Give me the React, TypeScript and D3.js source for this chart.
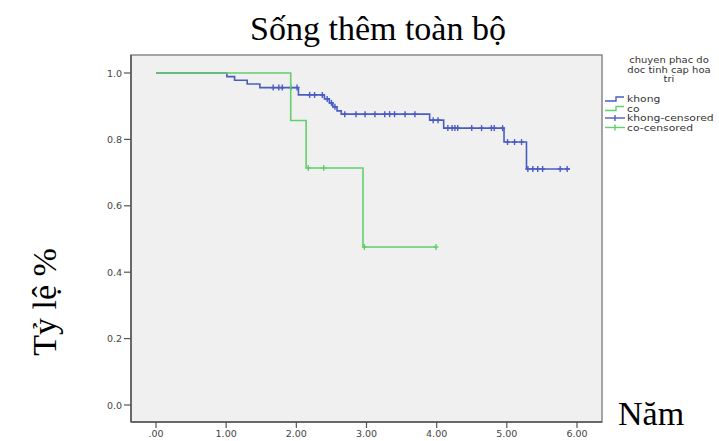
import { useEffect, useRef } from "react";
import * as d3 from "d3";

// survival curve steps [year, survival]
const khongSteps: [number, number][] = [
  [0, 1], [1.01, 0.989], [1.12, 0.978], [1.3, 0.967], [1.48, 0.956],
  [2.03, 0.934], [2.4, 0.922], [2.47, 0.91], [2.52, 0.898], [2.58, 0.886],
  [2.64, 0.876], [3.9, 0.858], [4.1, 0.834], [4.96, 0.792], [5.28, 0.711],
];
const khongEnd = 5.9;
const khongCensored = [
  1.67, 1.75, 1.8, 1.92, 2.01, 2.19, 2.26, 2.37, 2.44, 2.5, 2.55,
  2.69, 2.85, 2.98, 3.12, 3.26, 3.33, 3.4, 3.55, 3.69, 3.95, 4.02,
  4.16, 4.22, 4.26, 4.3, 4.5, 4.64, 4.78, 4.82, 4.94, 5.01, 5.11, 5.21,
  5.3, 5.37, 5.44, 5.51, 5.76, 5.86,
];

const coSteps: [number, number][] = [[0, 1], [1.92, 0.857], [2.14, 0.714], [2.95, 0.476]];
const coEnd = 4.0;
const coCensored = [2.17, 2.39, 2.97, 3.99];

const xTicks = [0, 1, 2, 3, 4, 5, 6];
const xTickLabels = [".00", "1.00", "2.00", "3.00", "4.00", "5.00", "6.00"];
const yTicks = [0, 0.2, 0.4, 0.6, 0.8, 1.0];

const legendTitle = ["chuyen phac do", "doc tinh cap hoa", "tri"];
const legendItems = ["khong", "co", "khong-censored", "co-censored"];

const BLUE = "#4a5cc4";
const GREEN = "#62d06a";

function survAt(steps: [number, number][], t: number) {
  let s = steps[0][1];
  for (const [st, sv] of steps) if (st <= t) s = sv;
  return s;
}

export default function App() {
  const ref = useRef<SVGSVGElement>(null);

  useEffect(() => {
    const svg = d3.select(ref.current);
    svg.selectAll("*").remove();

    const x = d3.scaleLinear().domain([0, 6]).range([156, 577]);
    const y = d3.scaleLinear().domain([0, 1]).range([405, 73]);

    // plot area
    svg.append("rect")
      .attr("x", 131).attr("y", 55).attr("width", 471).attr("height", 367)
      .attr("fill", "#f0f0f0").attr("stroke", "#888").attr("stroke-width", 1.5);

    const axisCol = "#555";
    svg.append("line").attr("x1", 131).attr("x2", 131).attr("y1", 55).attr("y2", 422)
      .attr("stroke", axisCol).attr("stroke-width", 1.5);
    svg.append("line").attr("x1", 131).attr("x2", 602).attr("y1", 422).attr("y2", 422)
      .attr("stroke", axisCol).attr("stroke-width", 1.5);

    const tickFont = "DejaVu Sans, sans-serif";
    yTicks.forEach((v) => {
      svg.append("line").attr("x1", 124).attr("x2", 131).attr("y1", y(v)).attr("y2", y(v))
        .attr("stroke", axisCol).attr("stroke-width", 1.2);
      svg.append("text").attr("x", 122).attr("y", y(v) + 3.5).attr("text-anchor", "end")
        .attr("font-family", tickFont).attr("font-size", 9.5).attr("fill", "#444")
        .text(v.toFixed(1));
    });
    xTicks.forEach((v, i) => {
      svg.append("line").attr("x1", x(v)).attr("x2", x(v)).attr("y1", 422).attr("y2", 428)
        .attr("stroke", axisCol).attr("stroke-width", 1.2);
      svg.append("text").attr("x", x(v)).attr("y", 437).attr("text-anchor", "middle")
        .attr("font-family", tickFont).attr("font-size", 9.5).attr("fill", "#444")
        .text(xTickLabels[i]);
    });

    const line = d3.line<[number, number]>()
      .x((d) => x(d[0])).y((d) => y(d[1]))
      .curve(d3.curveStepAfter);

    const drawCurve = (steps: [number, number][], end: number, cens: number[], col: string) => {
      const pts: [number, number][] = [...steps, [end, steps[steps.length - 1][1]]];
      svg.append("path").datum(pts).attr("d", line).attr("fill", "none")
        .attr("stroke", col).attr("stroke-width", 1.6);
      const g = svg.append("g").attr("stroke", col).attr("stroke-width", 1.4);
      cens.forEach((t) => {
        const cx = x(t), cy = y(survAt(steps, t));
        g.append("line").attr("x1", cx).attr("x2", cx).attr("y1", cy - 3).attr("y2", cy + 3);
        g.append("line").attr("x1", cx - 2.5).attr("x2", cx + 2.5).attr("y1", cy).attr("y2", cy);
      });
    };
    drawCurve(khongSteps, khongEnd, khongCensored, BLUE);
    drawCurve(coSteps, coEnd, coCensored, GREEN);

    // legend
    const lg = svg.append("g").attr("font-family", tickFont).attr("font-size", 8).attr("fill", "#333");
    legendTitle.forEach((t, i) => {
      lg.append("text").attr("transform", `translate(669,${63 + i * 9.5}) scale(1.25,1)`)
        .attr("text-anchor", "middle").text(t);
    });
    const cols = [BLUE, GREEN, BLUE, GREEN];
    legendItems.forEach((t, i) => {
      const cy = 99 + i * 9.5;
      if (i < 2) {
        lg.append("path").attr("d", `M605,${cy + 2}H616V${cy - 2}H624`).attr("fill", "none")
          .attr("stroke", cols[i]).attr("stroke-width", 1.4);
      } else {
        lg.append("line").attr("x1", 605).attr("x2", 625).attr("y1", cy).attr("y2", cy)
          .attr("stroke", cols[i]).attr("stroke-width", 1.4);
        lg.append("line").attr("x1", 615).attr("x2", 615).attr("y1", cy - 3).attr("y2", cy + 3)
          .attr("stroke", cols[i]).attr("stroke-width", 1.4);
      }
      lg.append("text").attr("transform", `translate(627,${cy + 3}) scale(1.35,1)`).text(t);
    });

    // titles
    const serif = "Liberation Serif, Times New Roman, serif";
    svg.append("text").attr("x", 378).attr("y", 40).attr("text-anchor", "middle")
      .attr("font-family", serif).attr("font-size", 34).attr("fill", "#000").text("Sống thêm toàn bộ");
    svg.append("text").attr("transform", "translate(56,302) rotate(-90)").attr("text-anchor", "middle")
      .attr("font-family", serif).attr("font-size", 34).attr("fill", "#000").text("Tỷ lệ %");
    svg.append("text").attr("x", 618).attr("y", 425)
      .attr("font-family", serif).attr("font-size", 34).attr("fill", "#000").text("Năm");
  }, []);

  return (
    <svg ref={ref} width={719} height={441}
      style={{ position: "absolute", left: 0, top: 0, background: "#fff" }} />
  );
}
